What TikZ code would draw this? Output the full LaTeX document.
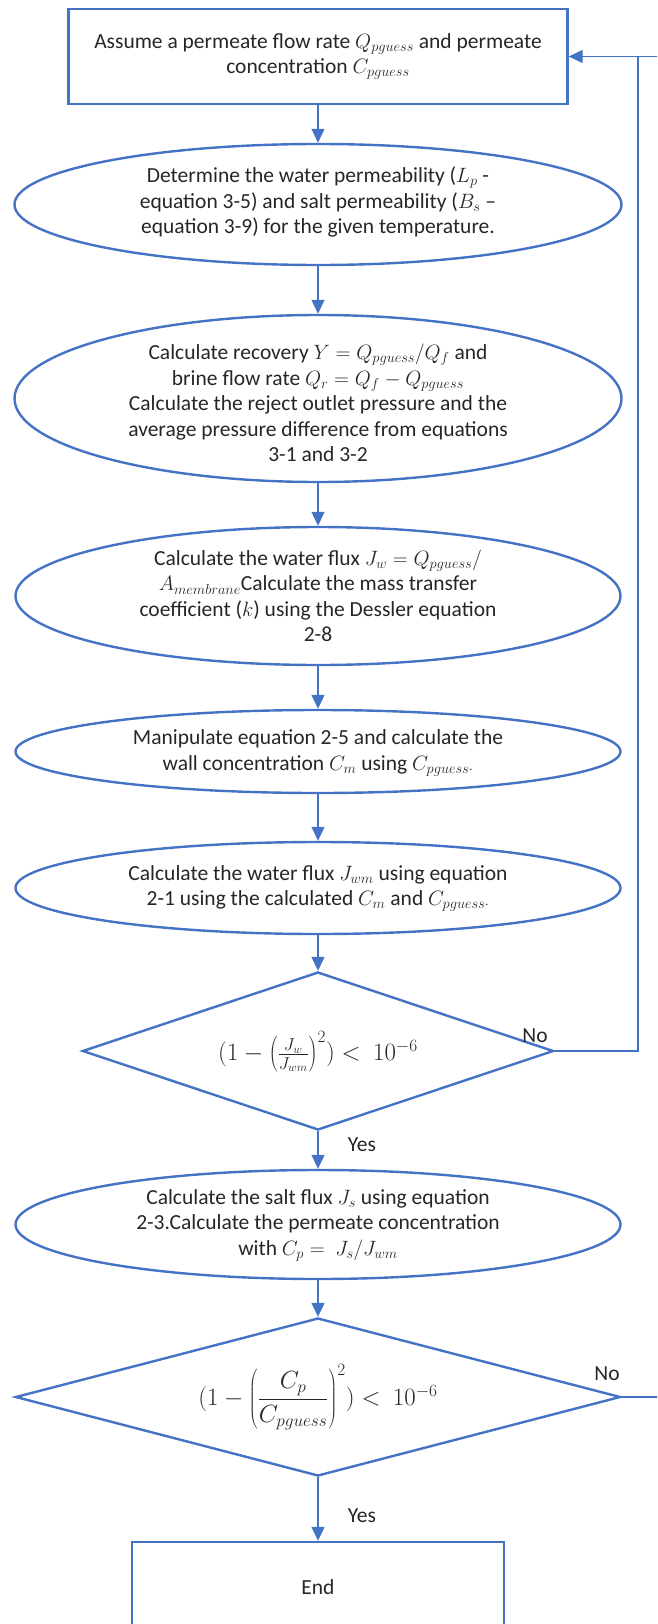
\documentclass[tikz,border=0pt]{standalone}
\usepackage{fontspec}
\setmainfont{Carlito}
\usetikzlibrary{shapes.geometric,arrows.meta}
\definecolor{obl}{HTML}{4472C4}
\begin{document}
\begin{tikzpicture}[x=1pt,y=-1pt,
  every node/.style={font=\fontsize{21.5}{25.5}\selectfont, text=black!85},
  boxshape/.style={draw=obl, line width=2.4pt, rectangle, inner sep=0pt},
  ellshape/.style={draw=obl, line width=2.4pt, ellipse, inner sep=0pt},
  dshape/.style={draw=obl, line width=2.4pt, diamond, inner sep=0pt},
  txt/.style={align=center, inner sep=0pt},
  frm/.style={inner sep=0pt, font=\fontsize{24.5}{29}\selectfont},
  conn/.style={draw=obl, line width=1.2pt},
  arr/.style={conn, -{Triangle[width=13pt,length=14pt]}},
  lbl/.style={inner sep=0pt}]
\useasboundingbox (0,0) rectangle (657,1624);
\clip (0,0) rectangle (657,1624);

\node[boxshape, minimum width=499pt, minimum height=95pt, align=center] (start) at (318,56.5)
  {Assume a permeate flow rate $Q_{pguess}$ and permeate\\concentration $C_{pguess}$};

\node[ellshape, minimum width=607pt, minimum height=121pt] (e1) at (318,204.5) {};
\node[txt] (e1t) at (318,202) {Determine the water permeability ($L_p$ -\\equation 3-5) and salt permeability ($B_s$ –\\equation 3-9) for the given temperature.};

\node[ellshape, minimum width=607pt, minimum height=167pt] (e2) at (318,398.5) {};
\node[txt] (e2t) at (318,403) {Calculate recovery $Y = Q_{pguess}/Q_f$ and\\brine flow rate $Q_r = Q_f - Q_{pguess}$\\Calculate the reject outlet pressure and the\\average pressure difference from equations\\3-1 and 3-2};

\node[ellshape, minimum width=605pt, minimum height=138pt] (e3) at (318,596) {};
\node[txt] (e3t) at (318,596) {Calculate the water flux $J_w = Q_{pguess}/$\\$A_{membrane}$Calculate the mass transfer\\coefficient ($k$) using the Dessler equation\\2-8};

\node[ellshape, minimum width=605pt, minimum height=83pt] (e4) at (318,751.5) {};
\node[txt] (e4t) at (318,753) {Manipulate equation 2-5 and calculate the\\wall concentration $C_m$ using $C_{pguess\cdot}$};

\node[ellshape, minimum width=605pt, minimum height=92pt] (e5) at (318,888) {};
\node[txt] (e5t) at (318,888.5) {Calculate the water flux $J_{wm}$ using equation\\2-1 using the calculated $C_m$ and $C_{pguess\cdot}$};

\node[dshape, minimum width=471pt, minimum height=158pt] (d1) at (318,1051) {};
\node[frm] (d1t) at (318,1052) {$(1-\left(\frac{J_w}{J_{wm}}\right)^2) <\ 10^{-6}$};

\node[ellshape, minimum width=605pt, minimum height=109pt] (e6) at (318,1224.5) {};
\node[txt] (e6t) at (318,1225) {Calculate the salt flux $J_s$ using equation\\2-3.Calculate the permeate concentration\\with $C_p =\ J_s/J_{wm}$};

\node[dshape, minimum width=605pt, minimum height=158pt] (d2) at (318,1397) {};
\node[frm] (d2t) at (318,1397) {$(1-\left({\displaystyle\frac{C_p}{C_{pguess}}}\right)^2) <\ 10^{-6}$};

\node[boxshape, minimum width=372pt, minimum height=140pt] (end) at (318,1612) {};
\node[txt] (endt) at (318,1587) {End};

\draw[arr] (start.south) -- (e1.north);
\draw[arr] (e1.south) -- (e2.north);
\draw[arr] (e2.south) -- (e3.north);
\draw[arr] (e3.south) -- (e4.north);
\draw[arr] (e4.south) -- (e5.north);
\draw[arr] (e5.south) -- (d1.north);
\draw[arr] (d1.south) -- (e6.north);
\draw[arr] (e6.south) -- (d2.north);
\draw[arr] (d2.south) -- (end.north);

\coordinate (l1) at (638,1051);
\coordinate (l2) at (690,1397);
\draw[conn] (d2.east) -- (l2) |- (start.east);
\draw[arr] (d1.east) -- (l1) |- (start.east);

\node[lbl] (no1) at (535,1036) {No};
\node[lbl] (no2) at (607,1374) {No};
\node[lbl] (yes1) at (362,1145) {Yes};
\node[lbl] (yes2) at (362,1516) {Yes};
\end{tikzpicture}
\end{document}
